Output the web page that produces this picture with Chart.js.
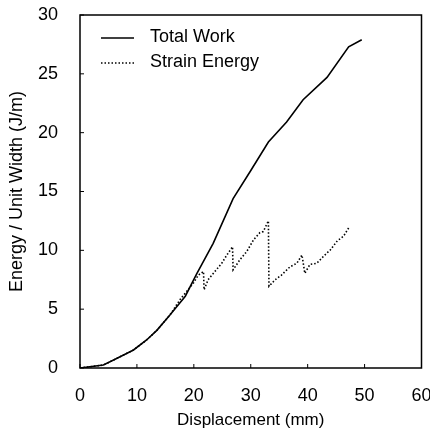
<!DOCTYPE html>
<html lang="en">
<head>
  <meta charset="UTF-8">
  <title>Energy vs Displacement</title>
  <script src="https://cdn.jsdelivr.net/npm/chart.js"></script>
  <style>
    html, body { margin: 0; padding: 0; background: #fff; }
    .chart-box { width: 430px; height: 445px; }
  </style>
</head>
<body>
  <div class="chart-box">
    <canvas id="energyChart" width="430" height="445"></canvas>
  </div>
  <script>
    // Total Work curve (mm, J/m)
    const workDisp   = [0, 4.1, 5.9, 9.4, 11.7, 13.5, 15.8, 18.5, 20.5, 23.4, 26.9, 29.9, 33.1, 36.3, 39.2, 43.4, 47.2, 49.5];
    const workEnergy = [0, 0.25, 0.68, 1.53, 2.38, 3.2, 4.5, 6.1, 8.0, 10.6, 14.4, 16.7, 19.2, 20.9, 22.8, 24.7, 27.3, 27.9];

    // Strain Energy curve (mm, J/m)
    const strainDisp   = [0, 4.1, 5.9, 9.4, 11.7, 13.5, 15.8, 17.7, 19.0, 19.9, 20.8, 21.7, 21.8, 22.5, 23.7, 24.9, 25.8, 26.8, 26.9, 28.1, 29.3, 30.5, 31.6, 32.2, 33.1, 33.2, 34.3, 35.4, 36.9, 38.1, 39.0, 39.5, 40.4, 41.6, 42.8, 44.0, 45.2, 46.3, 47.2];
    const strainEnergy = [0, 0.25, 0.68, 1.53, 2.38, 3.2, 4.5, 5.9, 6.65, 7.2, 7.9, 8.2, 6.65, 7.5, 8.2, 8.9, 9.6, 10.3, 8.35, 9.2, 9.9, 10.9, 11.5, 11.6, 12.5, 6.95, 7.5, 7.9, 8.6, 8.9, 9.6, 8.05, 8.8, 8.9, 9.5, 10.05, 10.8, 11.2, 11.9];

    const xTicks = [0, 10, 20, 30, 40, 50, 60];
    const yTicks = [0, 5, 10, 15, 20, 25, 30];
    const seriesNames = ['Total Work', 'Strain Energy'];

    const toPoints = (xs, ys) => xs.map((x, i) => ({ x: x, y: ys[i] }));

    // frame, inward ticks and the in-plot legend
    const framePlugin = {
      id: 'frame',
      afterDraw(chart) {
        const ctx = chart.ctx;
        const a = chart.chartArea;
        const xs = chart.scales.x, ys = chart.scales.y;
        ctx.save();
        ctx.strokeStyle = '#000';
        ctx.lineWidth = 1.5;
        ctx.strokeRect(a.left, a.top, a.right - a.left, a.bottom - a.top);
        ctx.lineWidth = 1;
        ctx.beginPath();
        xTicks.forEach(v => {
          const px = xs.getPixelForValue(v);
          ctx.moveTo(px, a.bottom);
          ctx.lineTo(px, a.bottom - 4);
        });
        yTicks.forEach(v => {
          const py = ys.getPixelForValue(v);
          ctx.moveTo(a.left, py);
          ctx.lineTo(a.left + 4, py);
        });
        ctx.stroke();

        // legend
        ctx.font = '18px "Liberation Sans", Arial, sans-serif';
        ctx.fillStyle = '#000';
        ctx.textBaseline = 'middle';
        const rows = [{ y: 38, dash: [] }, { y: 63, dash: [1.5, 2] }];
        rows.forEach((r, i) => {
          ctx.beginPath();
          ctx.setLineDash(r.dash);
          ctx.lineWidth = 1.5;
          ctx.moveTo(101, r.y);
          ctx.lineTo(134, r.y);
          ctx.stroke();
          ctx.setLineDash([]);
          ctx.fillText(seriesNames[i], 150, r.y - 1);
        });
        ctx.restore();
      }
    };

    const ctx = document.getElementById('energyChart').getContext('2d');
    const energyChart = new Chart(ctx, {
      type: 'line',
      data: {
        datasets: [{
          label: seriesNames[0],
          data: toPoints(workDisp, workEnergy),
          borderColor: '#000',
          borderWidth: 1.6,
          pointRadius: 0,
          tension: 0
        }, {
          label: seriesNames[1],
          data: toPoints(strainDisp, strainEnergy),
          borderColor: '#000',
          borderWidth: 1.6,
          borderDash: [1.5, 2],
          pointRadius: 0,
          tension: 0
        }]
      },
      options: {
        responsive: false,
        animation: false,
        layout: { padding: { left: 0, right: 8.5, top: 15, bottom: 0 } },
        plugins: {
          legend: { display: false },
          tooltip: { enabled: false }
        },
        scales: {
          x: {
            type: 'linear',
            min: 0,
            max: 60,
            afterBuildTicks: s => { s.ticks = xTicks.map(v => ({ value: v })); },
            afterFit: s => {
              s.height = 445 - 368;
              s.paddingLeft = 0;
              s.paddingRight = 0;
            },
            grid: { display: false, drawTicks: false },
            border: { display: false },
            ticks: {
              color: '#000',
              padding: 17,
              font: { family: '"Liberation Sans", Arial, sans-serif', size: 18 }
            },
            title: {
              display: true,
              text: 'Displacement (mm)',
              color: '#000',
              padding: { top: 0, bottom: 14 },
              font: { family: '"Liberation Sans", Arial, sans-serif', size: 17 }
            }
          },
          y: {
            min: 0,
            max: 30,
            afterBuildTicks: s => { s.ticks = yTicks.map(v => ({ value: v })); },
            afterFit: s => {
              s.width = 80;
              s.paddingTop = 0;
              s.paddingBottom = 0;
            },
            grid: { display: false, drawTicks: false },
            border: { display: false },
            ticks: {
              color: '#000',
              padding: 22,
              font: { family: '"Liberation Sans", Arial, sans-serif', size: 18 }
            },
            title: {
              display: true,
              text: 'Energy / Unit Width (J/m)',
              color: '#000',
              padding: { top: 6, bottom: 0 },
              font: { family: '"Liberation Sans", Arial, sans-serif', size: 18 }
            }
          }
        }
      },
      plugins: [framePlugin]
    });
  </script>
</body>
</html>
